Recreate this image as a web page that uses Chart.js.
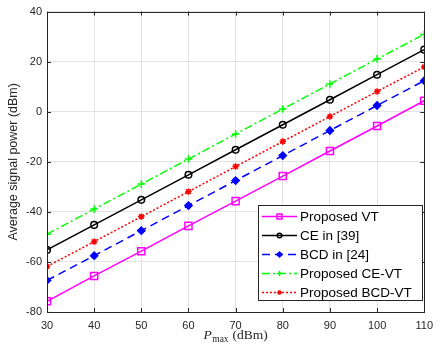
<!DOCTYPE html>
<html><head><meta charset="utf-8">
<script src="https://cdn.jsdelivr.net/npm/chart.js@4"></script>
<style>html,body{margin:0;padding:0;background:#fff}#wrap{width:440px;height:349px}</style>
</head><body><div id="wrap"><canvas id="c" width="440" height="349"></canvas></div>
<script>
const pmax = [30, 40, 50, 60, 70, 80, 90, 100, 110];
const proposedVT = [-75.7, -65.6, -55.7, -45.6, -35.7, -25.7, -15.7, -5.7, 4.4];
const ceIn39 = [-55.2, -45.2, -35.2, -25.2, -15.2, -5.2, 4.8, 14.8, 24.8];
const bcdIn24 = [-67.4, -57.5, -47.5, -37.5, -27.5, -17.5, -7.5, 2.5, 12.4];
const proposedCEVT = [-48.9, -38.9, -28.9, -18.9, -8.9, 1.1, 11.1, 21.1, 30.9];
const proposedBCDVT = [-61.8, -51.9, -41.9, -31.9, -21.9, -11.9, -1.9, 8.1, 17.9];
const yTicks = [-80, -60, -40, -20, 0, 20, 40];

const FONT = "'Liberation Sans', Arial, sans-serif";
const SERIF = "'Liberation Serif', 'DejaVu Serif', serif";

const series = [
  {label:'Proposed VT', data:proposedVT, color:'#FF00FF', style:'rect', r:5, fill:false, dash:[]},
  {label:'CE in [39]', data:ceIn39, color:'#000000', style:'circle', r:3.3, fill:false, dash:[]},
  {label:'BCD in [24]', data:bcdIn24, color:'#0000FF', style:'rectRot', r:3.6, fill:true, dash:[8,5]},
  {label:'Proposed CE-VT', data:proposedCEVT, color:'#00FF00', style:'cross', r:3.8, fill:false, dash:[8,3,2,3]},
  {label:'Proposed BCD-VT', data:proposedBCDVT, color:'#FF0000', style:'star', r:3.2, fill:false, dash:[2,2]}
];

const datasets = series.map(s => ({
  label: s.label,
  data: pmax.map((x,i)=>({x:x, y:s.data[i]})),
  borderColor: s.color,
  backgroundColor: s.fill ? s.color : 'rgba(0,0,0,0)',
  borderWidth: 1.5,
  borderDash: s.dash,
  pointStyle: s.style,
  pointRadius: s.r,
  pointBorderWidth: 1.5,
  pointBorderColor: s.color,
  pointBackgroundColor: s.fill ? s.color : 'rgba(0,0,0,0)',
  tension: 0
}));

const decor = {
  id:'decor',
  afterDraw(chart){
    const ctx = chart.ctx, a = chart.chartArea;
    const xs = chart.scales.x, ys = chart.scales.y;
    ctx.save();
    // box
    ctx.strokeStyle = '#262626'; ctx.lineWidth = 1; ctx.setLineDash([]);
    ctx.strokeRect(Math.round(a.left)+0.5, Math.round(a.top)+0.5, Math.round(a.right-a.left), Math.round(a.bottom-a.top));
    // inward ticks
    ctx.beginPath();
    pmax.forEach(v=>{ const px=Math.round(xs.getPixelForValue(v))+0.5;
      ctx.moveTo(px,a.bottom); ctx.lineTo(px,a.bottom-4);
      ctx.moveTo(px,a.top); ctx.lineTo(px,a.top+4); });
    yTicks.forEach(v=>{ const py=Math.round(ys.getPixelForValue(v))+0.5;
      ctx.moveTo(a.left,py); ctx.lineTo(a.left+4,py);
      ctx.moveTo(a.right,py); ctx.lineTo(a.right-4,py); });
    ctx.stroke();
    // x title
    ctx.fillStyle = '#262626'; ctx.textBaseline='alphabetic';
    const cx = (a.left+a.right)/2, by = 339;
    ctx.font = "italic 13.5px " + SERIF; const wP = ctx.measureText('P').width;
    ctx.font = "9.5px " + SERIF; const wm = ctx.measureText('max').width;
    ctx.font = "13.5px " + SERIF; const wd = ctx.measureText(' (dBm)').width;
    let x0 = cx - (wP+wm+1+wd)/2;
    ctx.font = "italic 13.5px " + SERIF; ctx.fillText('P', x0, by); x0 += wP + 0.5;
    ctx.font = "9.5px " + SERIF; ctx.fillText('max', x0, by+2.5); x0 += wm + 0.5;
    ctx.font = "13.5px " + SERIF; ctx.fillText(' (dBm)', x0, by);
    // legend
    const L=258, T=205, R=422, B=300;
    ctx.fillStyle='#fff'; ctx.fillRect(L,T,R-L,B-T);
    ctx.strokeStyle='#262626'; ctx.lineWidth=1; ctx.strokeRect(L+0.5,T+0.5,R-L,B-T);
    series.forEach((s,i)=>{
      const y = 216.5 + i*19;
      ctx.strokeStyle=s.color; ctx.lineWidth=1.5; ctx.setLineDash(s.dash);
      ctx.beginPath(); ctx.moveTo(262,y); ctx.lineTo(297,y); ctx.stroke();
      ctx.setLineDash([]);
      ctx.fillStyle = s.fill ? s.color : 'rgba(0,0,0,0)';
      ctx.strokeStyle = s.color; ctx.lineWidth = 1.5;
      Chart.helpers.drawPoint(ctx, {pointStyle:s.style, radius:s.r*0.7, borderWidth:1.5, rotation:0}, 279.5, y);
      ctx.fillStyle='#000'; ctx.font='13.5px '+FONT; ctx.textBaseline='middle';
      ctx.fillText(s.label, 300, y+0.5);
    });
    ctx.restore();
  }
};

new Chart(document.getElementById('c'), {
  type:'line',
  data:{datasets},
  options:{
    responsive:false, animation:false, devicePixelRatio:1,
    layout:{padding:{top:11, right:10, left:0, bottom:0}},
    plugins:{legend:{display:false}, tooltip:{enabled:false}},
    scales:{
      x:{type:'linear', min:30, max:110,
        afterBuildTicks(sc){ sc.ticks = pmax.map(v=>({value:v})); },
        afterFit(sc){ sc.height = 37; },
        grid:{color:'#e3e3e3', drawTicks:false, lineWidth:1},
        border:{display:false},
        ticks:{color:'#262626', font:{family:FONT, size:11}, padding:7, maxRotation:0}
      },
      y:{type:'linear', min:-80, max:40,
        afterBuildTicks(sc){ sc.ticks = yTicks.map(v=>({value:v})); },
        afterFit(sc){ sc.width = 47; },
        grid:{color:'#e3e3e3', drawTicks:false, lineWidth:1},
        border:{display:false},
        ticks:{color:'#262626', font:{family:FONT, size:11}, padding:5},
        title:{display:true, text:'Average signal power (dBm)', color:'#262626', font:{family:FONT, size:12.5}, padding:{top:6,bottom:2}}
      }
    }
  },
  plugins:[decor]
});
</script></body></html>
